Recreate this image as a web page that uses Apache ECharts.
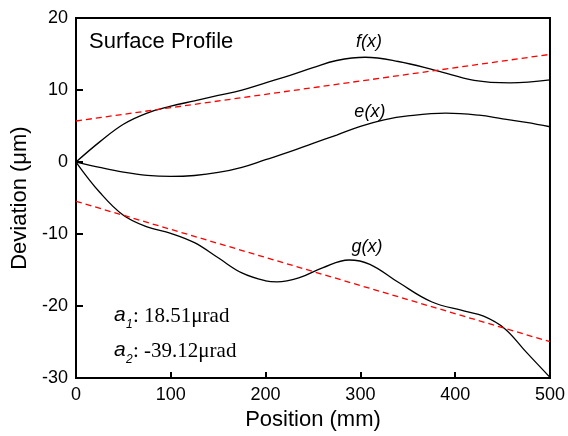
<!DOCTYPE html>
<html>
<head>
<meta charset="utf-8">
<script src="https://cdn.jsdelivr.net/npm/echarts@6/dist/echarts.min.js"></script>
<style>html,body{margin:0;padding:0;background:#fff;}#c{width:568px;height:436px;}</style>
</head>
<body>
<div id="c"></div>
<script>
// f(x): positions (mm) and deviation (um)
var fPositions = [0,25,50,75,100,125,150,175,200,225,250,275,305,340,380,420,458,500];
var fValues    = [0,2.8,5.25,6.8,7.75,8.5,9.25,10.0,11.0,12.0,13.1,14.1,14.55,13.96,12.7,11.35,11.0,11.4];
// e(x)
var ePositions = [0,25,50,75,100,125,150,175,200,225,250,275,300,325,350,390,425,450,475,500];
var eValues    = [0,-0.75,-1.4,-1.85,-2.0,-1.87,-1.45,-0.73,0.33,1.4,2.6,3.75,4.95,5.85,6.4,6.78,6.5,6.0,5.5,4.9];
// g(x)
var gPositions = [0,25,50,75,100,125,150,175,200,212,235,260,288,310,340,375,410,430,452,475,500];
var gValues    = [0,-4.2,-7.4,-9.0,-9.9,-11.2,-13.3,-15.4,-16.5,-16.65,-16.1,-14.7,-13.6,-14.2,-16.7,-19.4,-20.7,-21.4,-23.1,-26.4,-29.9];
// fitted lines (um) at 0 and 500 mm
var fitX = [0,500];
var fit1 = [5.7,14.95];
var fit2 = [-5.45,-24.95];
var xTicks = [0,100,200,300,400,500];
var yTicks = [-30,-20,-10,0,10,20];
var curveLabels = [['f(x)',309,16.6],['e(x)',310,7.0],['g(x)',307,-11.8]];

function pairs(xs, ys){ return xs.map(function(x,i){ return [x, ys[i]]; }); }

var chart = echarts.init(document.getElementById('c'), null, {renderer:'canvas'});
var sans = 'Liberation Sans';
var serif = 'Liberation Serif';
var curveStyle = {color:'#000', width:1.3};
var option = {
  animation:false,
  backgroundColor:'#fff',
  grid:{left:76, right:16, top:18, bottom:52, show:true, borderColor:'#000', borderWidth:2, backgroundColor:'transparent'},
  xAxis:{type:'value', min:xTicks[0], max:xTicks[xTicks.length-1], interval:100,
    name:'Position (mm)', nameLocation:'middle', nameGap:29,
    nameTextStyle:{fontFamily:sans, fontSize:22, color:'#000'},
    axisLine:{onZero:false, lineStyle:{color:'#000', width:2}},
    axisTick:{inside:true, length:6, lineStyle:{color:'#000', width:2}},
    axisLabel:{fontFamily:sans, fontSize:18, color:'#000', margin:8},
    splitLine:{show:false}},
  yAxis:{type:'value', min:yTicks[0], max:yTicks[yTicks.length-1], interval:10,
    name:'Deviation (\u03bcm)', nameLocation:'middle', nameGap:43,
    nameTextStyle:{fontFamily:sans, fontSize:22, color:'#000'},
    axisLine:{onZero:false, lineStyle:{color:'#000', width:2}},
    axisTick:{inside:true, length:7, lineStyle:{color:'#000', width:2}},
    axisLabel:{fontFamily:sans, fontSize:18, color:'#000', margin:8},
    splitLine:{show:false}},
  series:[
    {type:'line', data:pairs(fPositions,fValues), smooth:0.4, symbol:'none', lineStyle:curveStyle},
    {type:'line', data:pairs(ePositions,eValues), smooth:0.4, symbol:'none', lineStyle:curveStyle},
    {type:'line', data:pairs(gPositions,gValues), smooth:0.4, symbol:'none', lineStyle:curveStyle},
    {type:'line', data:pairs(fitX,fit1), symbol:'none', lineStyle:{color:'#ff0000', width:1.3, type:[6,4]}},
    {type:'line', data:pairs(fitX,fit2), symbol:'none', lineStyle:{color:'#ff0000', width:1.3, type:[6,4]}}
  ]
};
chart.setOption(option);

var g = [];
curveLabels.forEach(function(l){
  var p = chart.convertToPixel({gridIndex:0}, [l[1], l[2]]);
  g.push({type:'text', x:p[0], y:p[1], style:{text:l[0], fontFamily:sans, fontStyle:'italic', fontSize:18, fill:'#000', align:'center', verticalAlign:'middle'}});
});
g.push({type:'text', x:89, y:42, style:{text:'Surface Profile', fontFamily:sans, fontSize:22, fill:'#000', align:'left', verticalAlign:'middle'}});
// annotations
function ann(y, sub, txt){
  g.push({type:'text', x:114, y:y, style:{text:'a', fontFamily:sans, fontStyle:'italic', fontSize:21, fill:'#000', align:'left', verticalAlign:'bottom'}});
  g.push({type:'text', x:126, y:y+5, style:{text:sub, fontFamily:sans, fontStyle:'italic', fontSize:12, fill:'#000', align:'left', verticalAlign:'bottom'}});
  g.push({type:'text', x:133, y:y+1, style:{text:txt, fontFamily:serif, fontSize:21, fill:'#000', align:'left', verticalAlign:'bottom'}});
}
ann(326, '1', ': 18.51\u03bcrad');
ann(361, '2', ': -39.12\u03bcrad');
chart.setOption({graphic:g});
</script>
</body>
</html>
